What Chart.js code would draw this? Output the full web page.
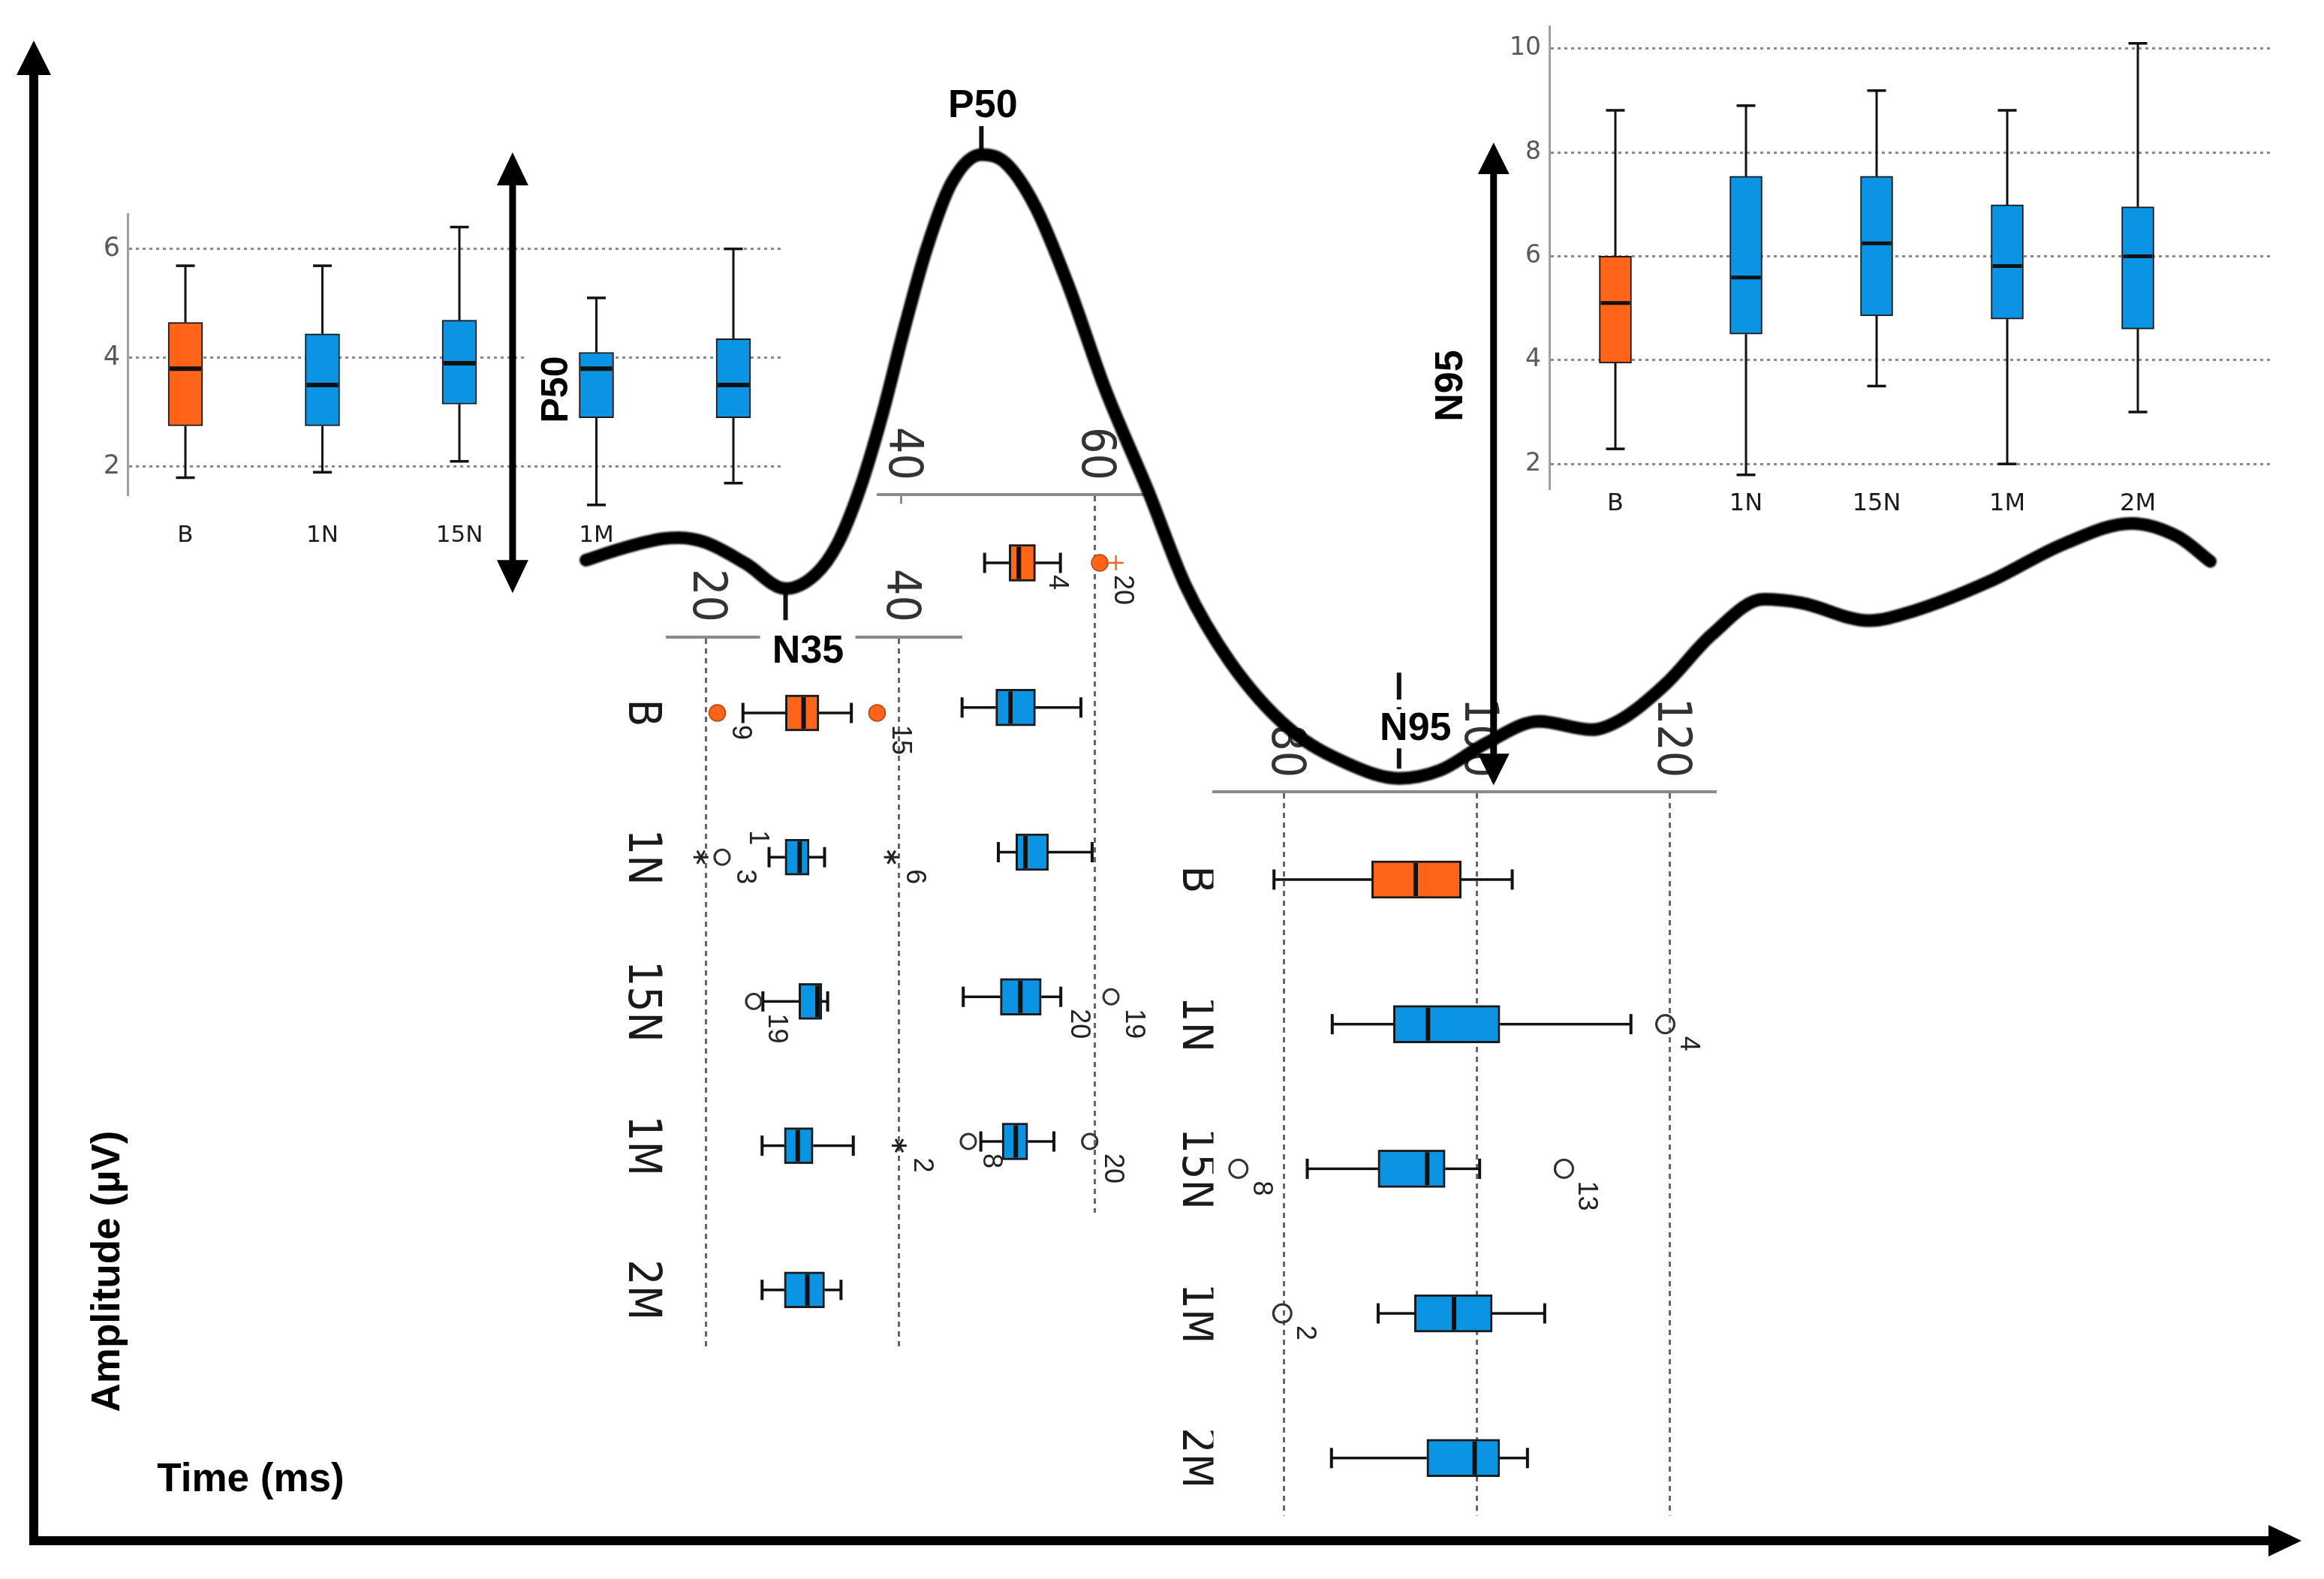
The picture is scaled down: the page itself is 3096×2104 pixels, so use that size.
<!DOCTYPE html>
<html><head><meta charset="utf-8">
<script src="https://cdn.jsdelivr.net/npm/chart.js@4.4.1/dist/chart.umd.min.js"></script>
<style>
html,body{margin:0;padding:0;background:#fff;overflow:hidden;}
#stage{position:relative;width:3096px;height:2104px;overflow:hidden;background:#fff;}
.pane{position:absolute;left:0;top:0;transform-origin:0 0;}
canvas{display:block;}
</style></head><body><div id="stage">
<div class="pane" style="transform:translate(100px,250px)"><canvas id="cAmpP50" width="960" height="510"></canvas></div>
<div class="pane" style="transform:translate(1990px,20px)"><canvas id="cAmpN95" width="1060" height="700"></canvas></div>
<div class="pane" style="transform:translate(1290px,760px) rotate(90deg)"><canvas id="cLatN35" width="1050" height="500"></canvas></div>
<div class="pane" style="transform:translate(1540px,560px) rotate(90deg)"><canvas id="cLatP50" width="1065" height="380"></canvas></div>
<div class="pane" style="transform:translate(2295px,930px) rotate(90deg)"><canvas id="cLatN95" width="1100" height="755"></canvas></div>
<div class="pane"><canvas id="cMain" width="3096" height="2104"></canvas></div>
</div>
<script>
// ---------------- data ----------------
const groups = ['B','1N','15N','1M','2M'];

// PERG waveform (time ms, amplitude µV)
const waveTime = [7.6,11.4,15.5,17.2,20.0,24.2,28.3,31.4,33.7,36.0,38.3,40.6,42.9,45.5,48.6,51.1,54.2,57.6,61.4,65.9,69.8,74.4,80.5,86.7,91.9,96.2,101.0,106.4,111.9,115.0,119.6,124.3,129.7,133.6,140.6,145.2,153.1,160.9,167.8,172.6,176.0];
const waveAmp  = [0.00,0.10,0.18,0.19,0.15,-0.03,-0.24,-0.12,0.14,0.60,1.22,1.95,2.62,3.18,3.42,3.35,2.98,2.32,1.45,0.58,-0.22,-0.86,-1.42,-1.72,-1.84,-1.77,-1.54,-1.36,-1.43,-1.34,-1.04,-0.63,-0.33,-0.36,-0.51,-0.43,-0.18,0.14,0.31,0.20,-0.01];
const peakLabels = ['N35','P50','N95'];
const peakTimes  = [28.3,48.6,91.9];
const peakAmps   = [-0.24,3.42,-1.84];

// P50 amplitude (µV)
const p50AmpMin = [1.80,1.90,2.10,1.30,1.70];
const p50AmpQ1  = [2.75,2.75,3.15,2.90,2.90];
const p50AmpMed = [3.80,3.50,3.90,3.80,3.50];
const p50AmpQ3  = [4.65,4.44,4.69,4.10,4.35];
const p50AmpMax = [5.69,5.69,6.40,5.10,6.00];
const p50AmpTicks = [2,4,6];

// N95 amplitude (µV)
const n95AmpMin = [2.29,1.79,3.50,2.00,3.00];
const n95AmpQ1  = [3.94,4.50,4.85,4.79,4.60];
const n95AmpMed = [5.10,5.59,6.25,5.81,6.00];
const n95AmpQ3  = [6.00,7.54,7.54,6.99,6.95];
const n95AmpMax = [8.81,8.90,9.19,8.81,10.10];
const n95AmpTicks = [2,4,6,8,10];

// N35 latency (ms)
const n35LatMin = [23.84,26.54,25.90,25.82,25.82];
const n35LatQ1  = [28.24,28.20,29.63,28.12,28.12];
const n35LatMed = [30.10,29.70,31.55,29.51,30.50];
const n35LatQ3  = [31.69,30.69,32.00,31.10,32.28];
const n35LatMax = [35.05,32.28,32.60,35.25,33.98];
const n35LatTicks = [20,40];
// [group, value, marker, case label, label side]
const n35LatOutliers = [[0,21.19,'dot','9'],[0,37.71,'dot','15'],[1,19.49,'star',''],[1,21.68,'ring','3'],[1,23.0,'none','1','a'],[1,39.20,'star','6'],[2,24.94,'ring','19'],[3,40.00,'star','2']];

// P50 latency (ms)
const p50LatMin = [48.62,46.29,50.04,46.41,48.23];
const p50LatQ1  = [51.15,49.78,51.85,50.25,50.43];
const p50LatMed = [52.16,51.28,52.83,52.32,51.85];
const p50LatQ3  = [53.87,53.87,55.22,54.49,53.09];
const p50LatMax = [56.46,58.58,59.74,56.50,55.79];
const p50LatTicks = [40,60];
const p50LatOutliers = [[0,60.52,'dot','20'],[0,62.20,'plus',''],[0,53.77,'none','4'],[3,61.69,'ring','19'],[3,56.02,'none','20'],[4,46.93,'ring','8'],[4,59.49,'ring','20']];

// N95 latency (ms)
const n95LatMin = [78.93,84.97,82.38,89.73,84.89];
const n95LatQ1  = [89.05,91.32,89.73,93.50,94.77];
const n95LatMed = [93.62,94.89,94.81,97.59,99.74];
const n95LatQ3  = [98.34,102.36,96.68,101.56,102.32];
const n95LatMax = [103.63,115.94,100.25,107.00,105.21];
const n95LatTicks = [80,100,120];
const n95LatOutliers = [[1,119.51,'ring','4'],[2,75.24,'ring','8'],[2,108.99,'ring','13'],[3,79.80,'ring','2']];

// ---------------- styles ----------------
const ORANGE = '#FF6419', BLUE = '#0B94E4';
const NARROW = "'Liberation Sans Narrow','Arial Narrow','DejaVu Sans Condensed','Liberation Sans',Arial,sans-serif";
const SANS = "'DejaVu Sans','Liberation Sans',Arial,sans-serif";
const ARIAL = "'Liberation Sans',Arial,Helvetica,sans-serif";

function boxExtras(s) {
  return {
    id: 'boxExtras',
    afterDatasetsDraw(chart) {
      const ctx = chart.ctx, xs = chart.scales.x, ys = chart.scales.y;
      const line = (x1, y1, x2, y2) => { ctx.beginPath(); ctx.moveTo(x1, y1); ctx.lineTo(x2, y2); ctx.stroke(); };
      ctx.save();
      ctx.strokeStyle = '#111';
      for (let i = 0; i < s.q1.length; i++) {
        const px = xs.getPixelForValue(i);
        const pMin = ys.getPixelForValue(s.min[i]), pQ1 = ys.getPixelForValue(s.q1[i]);
        const pMed = ys.getPixelForValue(s.med[i]), pQ3 = ys.getPixelForValue(s.q3[i]);
        const pMax = ys.getPixelForValue(s.max[i]);
        ctx.lineWidth = s.whiskerW;
        line(px, pQ3, px, pMax);
        line(px, pQ1, px, pMin);
        ctx.lineWidth = s.capW;
        line(px - s.cap / 2, pMax, px + s.cap / 2, pMax);
        line(px - s.cap / 2, pMin, px + s.cap / 2, pMin);
        ctx.lineWidth = s.medW;
        line(px - s.boxW / 2 + s.boxBorder, pMed, px + s.boxW / 2 - s.boxBorder, pMed);
      }
      (s.out || []).forEach(o => {
        const [g, v, mark, lab, side] = o;
        const px = xs.getPixelForValue(g), py = ys.getPixelForValue(v);
        const r = s.markR;
        if (mark === 'dot') {
          ctx.beginPath(); ctx.arc(px, py, r + 1, 0, Math.PI * 2);
          ctx.fillStyle = ORANGE; ctx.fill();
          ctx.lineWidth = 1.5; ctx.strokeStyle = '#B8440F'; ctx.stroke();
        } else if (mark === 'ring') {
          ctx.beginPath(); ctx.arc(px, py, r, 0, Math.PI * 2);
          ctx.lineWidth = 3; ctx.strokeStyle = '#333'; ctx.stroke();
        } else if (mark === 'star') {
          ctx.lineWidth = 3; ctx.strokeStyle = '#222';
          for (let k = 0; k < 3; k++) {
            const a = Math.PI / 2 + k * Math.PI / 3;
            line(px - Math.cos(a) * r, py - Math.sin(a) * r, px + Math.cos(a) * r, py + Math.sin(a) * r);
          }
        } else if (mark === 'plus') {
          ctx.lineWidth = 2.5; ctx.strokeStyle = ORANGE;
          line(px - r, py, px + r, py); line(px, py - r, px, py + r);
        }
        if (lab) {
          ctx.font = s.outFont; ctx.fillStyle = '#222'; ctx.textBaseline = 'middle';
          if (side === 'a') { ctx.textAlign = 'right'; ctx.fillText(lab, px - 16, py - 30); }
          else { ctx.textAlign = 'left'; ctx.fillText(lab, px + 16, py - 30); }
        }
      });
      ctx.restore();
    }
  };
}

function makeBox(id, s) {
  const el = document.getElementById(id);
  const hidden = s.hideCats || [];
  return new Chart(el, {
    type: 'bar',
    data: { datasets: [{
      data: s.q1.map((v, i) => ({ x: i, y: [v, s.q3[i]] })),
      backgroundColor: groups.map((g, i) => i === 0 ? ORANGE : BLUE),
      borderColor: '#1a1a1a', borderWidth: s.boxBorder, borderSkipped: false,
      barThickness: s.boxW
    }]},
    options: {
      responsive: false, animation: false, devicePixelRatio: 1,
      layout: { padding: { left: 0, top: s.padTop, right: s.padRight, bottom: 0 } },
      plugins: { legend: { display: false }, tooltip: { enabled: false } },
      scales: {
        x: {
          type: 'linear', min: s.iMin, max: s.iMax, offset: false,
          grid: { display: false, drawTicks: false, offset: false }, border: { display: false },
          afterBuildTicks: sc => { sc.ticks = groups.map((g, i) => ({ value: i })); },
          afterFit: sc => { sc.height = s.xH; sc.paddingLeft = 0; sc.paddingRight = 0; sc.paddingTop = 0; sc.paddingBottom = 0; },
          ticks: { display: s.showCats, autoSkip: false, maxRotation: 0, minRotation: 0, padding: s.catPad,
                   color: '#1a1a1a', font: { family: s.catFamily, size: s.catSize, lineHeight: 1 },
                   callback: v => hidden.includes(Math.round(v)) ? '' : groups[Math.round(v)] }
        },
        y: {
          type: 'linear', min: s.vMin, max: s.vMax, beginAtZero: false,
          afterBuildTicks: sc => { sc.ticks = s.ticks.map(v => ({ value: v })); },
          afterFit: sc => { sc.width = s.yW; sc.paddingTop = 0; sc.paddingBottom = 0; sc.paddingLeft = 0; sc.paddingRight = 0; },
          grid: { color: s.gridColor, lineWidth: s.gridW, drawTicks: !!s.tickLen, tickLength: s.tickLen || 0,
                  tickColor: s.tickColor || 'rgba(0,0,0,0)', tickWidth: 3 },
          border: { display: true, color: s.axisColor, width: s.axisW, dash: s.gridDash },
          ticks: { padding: s.tickPad, color: s.tickTextColor, font: { family: s.tickFamily, size: s.tickSize, lineHeight: 1 } }
        }
      }
    },
    plugins: [boxExtras(s)]
  });
}

// inset: P50 amplitude
makeBox('cAmpP50', {
  min: p50AmpMin, q1: p50AmpQ1, med: p50AmpMed, q3: p50AmpQ3, max: p50AmpMax, ticks: p50AmpTicks,
  iMin: -0.4219, iMax: 4.3616, vMin: 1.490, vMax: 6.642,
  yW: 70, xH: 101, padTop: 35, padRight: 17,
  boxW: 46, cap: 25, whiskerW: 3, capW: 3.5, medW: 6, boxBorder: 2,
  gridColor: '#8a8a8a', gridW: 3, gridDash: [4, 5], axisColor: '#a0a0a0', axisW: 3,
  tickFamily: SANS, tickSize: 35, tickPad: 10, tickTextColor: '#5a5a5a',
  showCats: true, hideCats: [4], catFamily: SANS, catSize: 31, catPad: 39
});

// inset: N95 amplitude
makeBox('cAmpN95', {
  min: n95AmpMin, q1: n95AmpQ1, med: n95AmpMed, q3: n95AmpQ3, max: n95AmpMax, ticks: n95AmpTicks,
  iMin: -0.5057, iMax: 5.0287, vMin: 1.516, vMax: 10.42,
  yW: 74, xH: 68.3, padTop: 15.6, padRight: 23,
  boxW: 43, cap: 25, whiskerW: 3, capW: 3.5, medW: 5, boxBorder: 2,
  gridColor: '#8a8a8a', gridW: 3, gridDash: [4, 5], axisColor: '#a0a0a0', axisW: 3,
  tickFamily: SANS, tickSize: 33, tickPad: 11, tickTextColor: '#5a5a5a',
  showCats: true, catFamily: SANS, catSize: 32, catPad: 4
});

// latency: N35 (drawn upright, pane rotated 90deg)
makeBox('cLatN35', {
  min: n35LatMin, q1: n35LatQ1, med: n35LatMed, q3: n35LatQ3, max: n35LatMax, ticks: n35LatTicks, out: n35LatOutliers,
  iMin: -0.5255, iMax: 4.4225, vMin: 16.02, vMax: 46.37,
  yW: 89, xH: 99, padTop: 10, padRight: 10,
  boxW: 48, cap: 27, whiskerW: 3.5, capW: 4, medW: 6, boxBorder: 3, markR: 10,
  gridColor: '#666', gridW: 3, gridDash: [7, 6], axisColor: '#8a8a8a', axisW: 4,
  tickFamily: NARROW, tickSize: 62, tickPad: 20, tickTextColor: '#333',
  showCats: true, catFamily: NARROW, catSize: 60, catPad: 5.5,
  outFont: "36px " + ARIAL
});

// latency: P50
makeBox('cLatP50', {
  min: p50LatMin, q1: p50LatQ1, med: p50LatMed, q3: p50LatQ3, max: p50LatMax, ticks: p50LatTicks, out: p50LatOutliers,
  iMin: -0.4706, iMax: 4.4929, vMin: 37.62, vMax: 65.57,
  yW: 99.3, xH: 10, padTop: 10, padRight: 9,
  boxW: 49, cap: 27, whiskerW: 3.5, capW: 4, medW: 6, boxBorder: 3, markR: 10,
  gridColor: c => (c.tick && c.tick.value === 60) ? '#666' : 'rgba(0,0,0,0)', gridW: 3, gridDash: [7, 6],
  tickLen: -12, tickColor: c => (c.tick && c.tick.value === 40) ? '#8a8a8a' : 'rgba(0,0,0,0)',
  axisColor: '#8a8a8a', axisW: 4,
  tickFamily: NARROW, tickSize: 62, tickPad: 31.3, tickTextColor: '#333',
  showCats: false, catFamily: NARROW, catSize: 60, catPad: 0,
  outFont: "36px " + ARIAL
});

// latency: N95
makeBox('cLatN95', {
  min: n95LatMin, q1: n95LatQ1, med: n95LatMed, q3: n95LatQ3, max: n95LatMax, ticks: n95LatTicks, out: n95LatOutliers,
  iMin: -0.6061, iMax: 4.3986, vMin: 72.65, vMax: 124.68,
  yW: 125.2, xH: 76.5, padTop: 10, padRight: 10.4,
  boxW: 50, cap: 27, whiskerW: 3.5, capW: 4, medW: 6, boxBorder: 3, markR: 12,
  gridColor: '#666', gridW: 3, gridDash: [7, 6], axisColor: '#8a8a8a', axisW: 4,
  tickFamily: NARROW, tickSize: 62, tickPad: 19, tickTextColor: '#333',
  showCats: true, catFamily: NARROW, catSize: 60, catPad: -5.5,
  outFont: "36px " + ARIAL
});

// ---------------- main waveform + annotations ----------------
function arrowHead(ctx, tx, ty, dx, dy, len, half) {
  const bx = tx - dx * len, by = ty - dy * len;
  ctx.beginPath();
  ctx.moveTo(tx, ty);
  ctx.lineTo(bx - dy * half, by + dx * half);
  ctx.lineTo(bx + dy * half, by - dx * half);
  ctx.closePath(); ctx.fill();
}
function vArrow(ctx, x, yTop, yBot, w, len, half, both) {
  ctx.lineWidth = w;
  ctx.beginPath(); ctx.moveTo(x, yTop + (both ? len - 2 : 0)); ctx.lineTo(x, yBot - len + 2); ctx.stroke();
  arrowHead(ctx, x, yBot, 0, 1, len, half);
  if (both) arrowHead(ctx, x, yTop, 0, -1, len, half);
}
function rotText(ctx, txt, x, y, font) {
  ctx.save(); ctx.translate(x, y); ctx.rotate(-Math.PI / 2);
  ctx.font = font; ctx.textAlign = 'center'; ctx.textBaseline = 'middle';
  ctx.fillText(txt, 0, 0); ctx.restore();
}

const overlay = {
  id: 'overlay',
  beforeDatasetDraw(chart) { chart.ctx.save(); chart.ctx.filter = 'blur(1.2px)'; },
  afterDatasetDraw(chart) { chart.ctx.restore(); },
  beforeDatasetsDraw(chart) {
    const ctx = chart.ctx, xs = chart.scales.x, ys = chart.scales.y;
    ctx.save();
    ctx.strokeStyle = '#111';
    const n35x = xs.getPixelForValue(peakTimes[0]), n35y = ys.getPixelForValue(peakAmps[0]);
    const p50x = xs.getPixelForValue(peakTimes[1]), p50y = ys.getPixelForValue(peakAmps[1]);
    const n95x = xs.getPixelForValue(peakTimes[2]), n95y = ys.getPixelForValue(peakAmps[2]);
    ctx.lineWidth = 6;
    ctx.beginPath(); ctx.moveTo(p50x, p50y - 38); ctx.lineTo(p50x, p50y); ctx.stroke();
    ctx.beginPath(); ctx.moveTo(n35x, n35y); ctx.lineTo(n35x, n35y + 42); ctx.stroke();
    ctx.setLineDash([36, 10]);
    ctx.beginPath(); ctx.moveTo(n95x, n95y - 141); ctx.lineTo(n95x, n95y); ctx.stroke();
    ctx.restore();
  },
  afterDatasetsDraw(chart) {
    const ctx = chart.ctx, xs = chart.scales.x, ys = chart.scales.y;
    ctx.save();
    ctx.fillStyle = '#000'; ctx.strokeStyle = '#000';
    // main axes
    ctx.lineWidth = 12;
    ctx.beginPath(); ctx.moveTo(45, 2059); ctx.lineTo(45, 95); ctx.stroke();
    arrowHead(ctx, 45, 54, 0, -1, 46, 23);
    ctx.beginPath(); ctx.moveTo(39, 2053); ctx.lineTo(3030, 2053); ctx.stroke();
    arrowHead(ctx, 3066, 2053, 1, 0, 44, 21);

    const n35x = xs.getPixelForValue(peakTimes[0]), n35y = ys.getPixelForValue(peakAmps[0]);
    const p50x = xs.getPixelForValue(peakTimes[1]), p50y = ys.getPixelForValue(peakAmps[1]);
    const n95x = xs.getPixelForValue(peakTimes[2]), n95y = ys.getPixelForValue(peakAmps[2]);

    // amplitude arrows
    const ax1 = xs.getPixelForValue(0), ax2 = xs.getPixelForValue(101.7);
    vArrow(ctx, ax1, p50y - 3, n35y + 6, 9, 44, 21, true);
    vArrow(ctx, ax2, p50y - 16, n95y + 9, 9, 42, 21, true);

    // rotated amplitude labels
    ctx.fillStyle = '#fff';
    ctx.fillRect(ax1 + 18, 470, 70, 98);
    ctx.fillStyle = '#000';
    rotText(ctx, 'P50', ax1 + 59, 519, "bold 50px " + ARIAL);
    rotText(ctx, 'N95', ax2 - 56, 514, "bold 52px " + ARIAL);

    // peak labels
    ctx.font = "bold 52px " + ARIAL; ctx.textAlign = 'center'; ctx.textBaseline = 'middle';
    ctx.fillText(peakLabels[1], p50x + 2, p50y - 64);
    ctx.fillStyle = '#fff';
    ctx.fillRect(n35x - 34, n35y + 60, 127, 46);
    ctx.fillRect(n95x - 28, n95y - 92, 100, 52);
    ctx.fillStyle = '#000';
    ctx.fillText(peakLabels[0], n35x + 30, n35y + 84);
    ctx.fillText(peakLabels[2], n95x + 22, n95y - 65);

    // axis titles
    rotText(ctx, 'Amplitude (µV)', 144, 1694, "bold 53px " + ARIAL);
    ctx.font = "bold 53px " + ARIAL; ctx.textAlign = 'center'; ctx.textBaseline = 'middle';
    ctx.fillText('Time (ms)', 334, 1972);
    ctx.restore();
  }
};

new Chart(document.getElementById('cMain'), {
  type: 'line',
  data: { datasets: [{
    data: waveTime.map((t, i) => ({ x: t, y: waveAmp[i] })),
    borderColor: '#000', borderWidth: 17, pointRadius: 0, fill: false,
    cubicInterpolationMode: 'monotone', borderCapStyle: 'round', borderJoinStyle: 'round'
  }]},
  options: {
    responsive: false, animation: false, devicePixelRatio: 1,
    layout: { padding: 0 },
    plugins: { legend: { display: false }, tooltip: { enabled: false } },
    scales: {
      x: { type: 'linear', min: -53.14, max: 187.79, display: false },
      y: { type: 'linear', min: -8.592, max: 4.724, display: false }
    }
  },
  plugins: [overlay]
});
</script>
</body></html>
